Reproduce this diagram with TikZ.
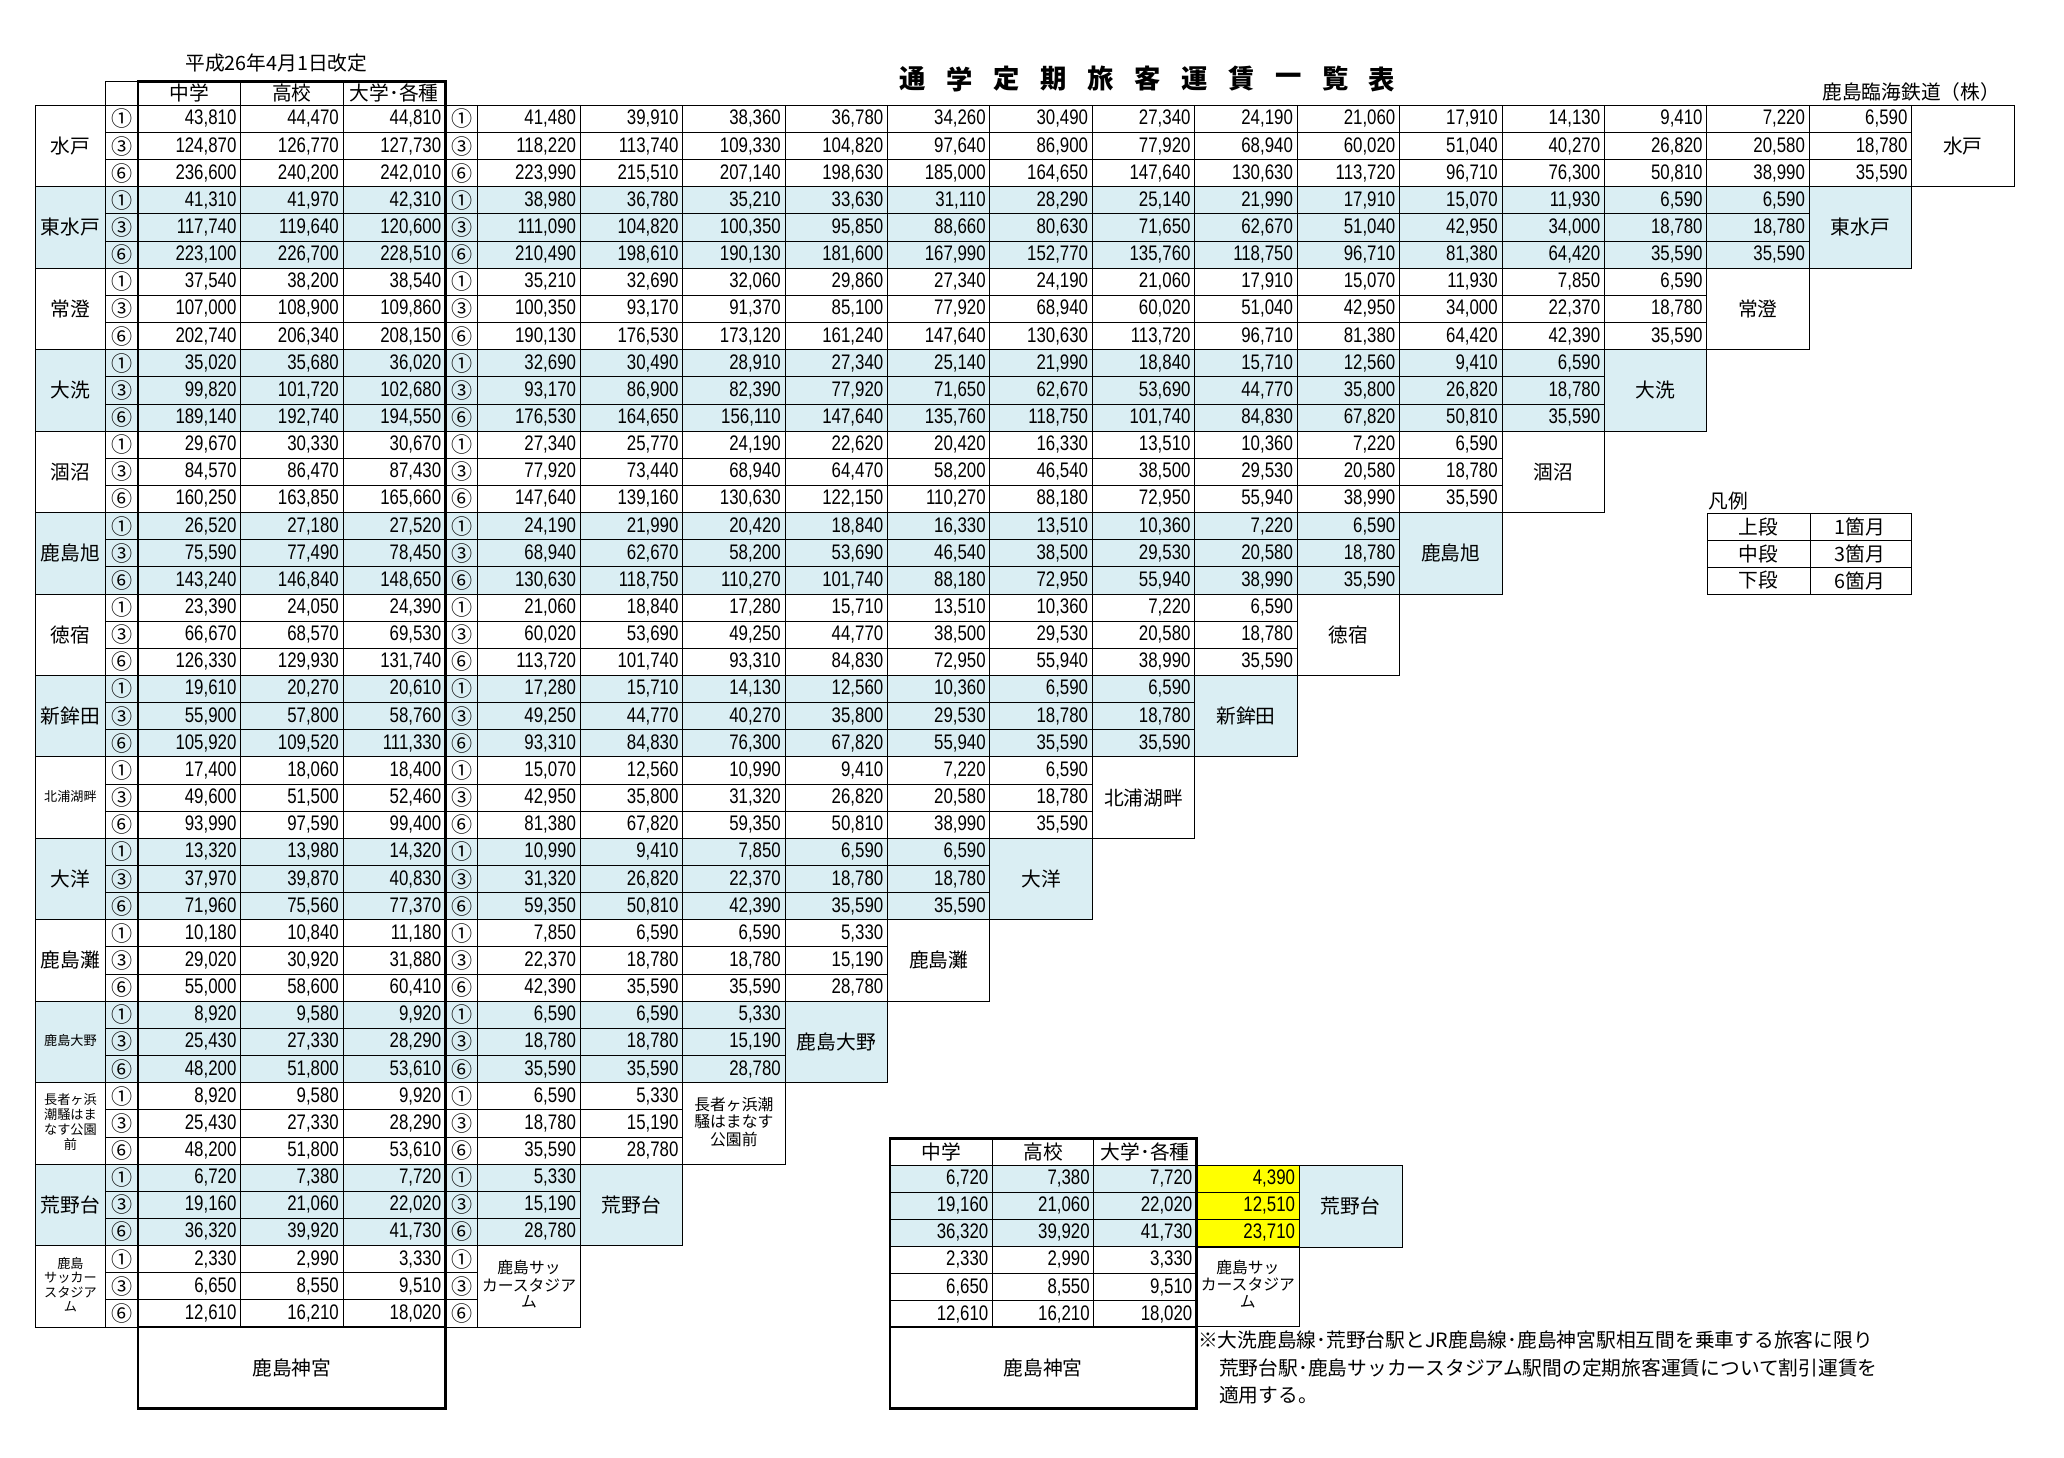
\documentclass[tikz,border=0pt]{standalone}
\usepackage{fontspec}
\setmainfont{Noto Sans CJK JP}
\newfontfamily\numfamily[FakeStretch=0.8]{Liberation Sans}
\usetikzlibrary{positioning}
\definecolor{rowblue}{RGB}{218,238,243}
\definecolor{hiyellow}{RGB}{255,255,0}
\pgfkeys{/pgf/number format/.cd,fixed,precision=0,1000 sep={,},assume math mode=true}
\tikzset{
  grid/.style={line width=0.6pt},
  frame/.style={line width=1.8pt},
  num/.style={anchor=east, inner sep=0pt, font=\numfamily\fontsize{16}{16}\selectfont},
  circ/.style={inner sep=0pt, font=\fontsize{16}{16}\selectfont},
  lbl/.style={align=center, inner sep=0pt, font=\fontsize{15}{17}\selectfont},
}
\newcommand\tinystack[2]{{\fontsize{#1}{#1}\selectfont\renewcommand\arraystretch{0.95}\begin{tabular}{@{}c@{}}#2\end{tabular}}}
% one sub-row: station, sub-row, circled number, left fares, right fares
\newcommand\fareline[5]{%
  \pgfmathsetmacro\ym{80+61.87*#1+20.62*#2+10.31}%
  \node[circ] (ca#1#2) at (92.5,\ym) {#3};
  \node[circ] (cb#1#2) at (350.7,\ym) {#3};
  \foreach \v [count=\k] in {#4} \node[num] (l#1#2\k) at ({105+77.8*\k-3},\ym) {\pgfmathprintnumber{\v}};
  \ifnum#1<14 \foreach \v [count=\k] in {#5} \node[num] (r#1#2\k) at ({363+77.8*\k-3},\ym) {\pgfmathprintnumber{\v}};\fi
}
% one station block
\newcommand\stationrow[9]{%
  \pgfmathsetmacro\yt{80+61.87*#1}%
  \pgfmathsetmacro\yb{\yt+61.87}%
  \pgfmathsetmacro\xl{363+77.8*(14-#1)}%
  \pgfmathsetmacro\xr{\xl+77.8}%
  \ifodd#1 \fill[rowblue] (27,\yt) rectangle (\xr,\yb);\fi
  \foreach \r in {0,...,3} \draw[grid] (80,{\yt+20.62*\r}) -- (\xl,{\yt+20.62*\r});
  \foreach \x in {80,105,182.8,260.6,338.4,363} \draw[grid] (\x,\yt) -- (\x,\yb);
  \pgfmathtruncatemacro\nv{13-#1}%
  \ifnum\nv>0 \foreach \k in {1,...,\nv} \draw[grid] ({363+77.8*\k},\yt) -- ({363+77.8*\k},\yb);\fi
  \draw[grid] (27,\yt) rectangle (80,\yb);
  \draw[grid] (\xl,\yt) rectangle (\xr,\yb);
  \node[lbl] (st#1) at (53.5,{\yt+30.93}) {#2};
  \node[lbl] (sr#1) at ({\xl+38.9},{\yt+30.93}) {#3};
  \fareline{#1}{0}{①}{#4}{#7}
  \fareline{#1}{1}{③}{#5}{#8}
  \fareline{#1}{2}{⑥}{#6}{#9}
}
\begin{document}
\begin{tikzpicture}[x=1pt, y=-1pt]
  \useasboundingbox[fill=white] (0,0) rectangle (1568,1107);

  % headings
  \node[lbl] (date) at (210,48) {平成26年4月1日改定};
  \foreach \c [count=\k] in {通,学,定,期,旅,客,運,賃,一,覧,表}
    \node[inner sep=0pt, font=\fontsize{20}{20}\selectfont\bfseries] (t\k) at ({693+35.7*(\k-1)},60) {\c};
  \node[lbl] (company) at (1452,70) {鹿島臨海鉄道（株）};

  \draw[grid] (80,62) rectangle (105,80);
  \draw[grid] (182.8,62) -- (182.8,80) (260.6,62) -- (260.6,80);
  \node[lbl] (h1) at (143.9,71) {中学};
  \node[lbl] (h2) at (221.7,71) {高校};
  \node[lbl] (h3) at (299.5,71) {大学･各種};

  \stationrow{0}{水戸}{水戸}{43810,44470,44810}{124870,126770,127730}{236600,240200,242010}
    {41480,39910,38360,36780,34260,30490,27340,24190,21060,17910,14130,9410,7220,6590}
    {118220,113740,109330,104820,97640,86900,77920,68940,60020,51040,40270,26820,20580,18780}
    {223990,215510,207140,198630,185000,164650,147640,130630,113720,96710,76300,50810,38990,35590}
  \stationrow{1}{東水戸}{東水戸}{41310,41970,42310}{117740,119640,120600}{223100,226700,228510}
    {38980,36780,35210,33630,31110,28290,25140,21990,17910,15070,11930,6590,6590}
    {111090,104820,100350,95850,88660,80630,71650,62670,51040,42950,34000,18780,18780}
    {210490,198610,190130,181600,167990,152770,135760,118750,96710,81380,64420,35590,35590}
  \stationrow{2}{常澄}{常澄}{37540,38200,38540}{107000,108900,109860}{202740,206340,208150}
    {35210,32690,32060,29860,27340,24190,21060,17910,15070,11930,7850,6590}
    {100350,93170,91370,85100,77920,68940,60020,51040,42950,34000,22370,18780}
    {190130,176530,173120,161240,147640,130630,113720,96710,81380,64420,42390,35590}
  \stationrow{3}{大洗}{大洗}{35020,35680,36020}{99820,101720,102680}{189140,192740,194550}
    {32690,30490,28910,27340,25140,21990,18840,15710,12560,9410,6590}
    {93170,86900,82390,77920,71650,62670,53690,44770,35800,26820,18780}
    {176530,164650,156110,147640,135760,118750,101740,84830,67820,50810,35590}
  \stationrow{4}{涸沼}{涸沼}{29670,30330,30670}{84570,86470,87430}{160250,163850,165660}
    {27340,25770,24190,22620,20420,16330,13510,10360,7220,6590}
    {77920,73440,68940,64470,58200,46540,38500,29530,20580,18780}
    {147640,139160,130630,122150,110270,88180,72950,55940,38990,35590}
  \stationrow{5}{鹿島旭}{鹿島旭}{26520,27180,27520}{75590,77490,78450}{143240,146840,148650}
    {24190,21990,20420,18840,16330,13510,10360,7220,6590}
    {68940,62670,58200,53690,46540,38500,29530,20580,18780}
    {130630,118750,110270,101740,88180,72950,55940,38990,35590}
  \stationrow{6}{徳宿}{徳宿}{23390,24050,24390}{66670,68570,69530}{126330,129930,131740}
    {21060,18840,17280,15710,13510,10360,7220,6590}
    {60020,53690,49250,44770,38500,29530,20580,18780}
    {113720,101740,93310,84830,72950,55940,38990,35590}
  \stationrow{7}{新鉾田}{新鉾田}{19610,20270,20610}{55900,57800,58760}{105920,109520,111330}
    {17280,15710,14130,12560,10360,6590,6590}
    {49250,44770,40270,35800,29530,18780,18780}
    {93310,84830,76300,67820,55940,35590,35590}
  \stationrow{8}{\tinystack{10}{北浦湖畔}}{北浦湖畔}{17400,18060,18400}{49600,51500,52460}{93990,97590,99400}
    {15070,12560,10990,9410,7220,6590}
    {42950,35800,31320,26820,20580,18780}
    {81380,67820,59350,50810,38990,35590}
  \stationrow{9}{大洋}{大洋}{13320,13980,14320}{37970,39870,40830}{71960,75560,77370}
    {10990,9410,7850,6590,6590}
    {31320,26820,22370,18780,18780}
    {59350,50810,42390,35590,35590}
  \stationrow{10}{鹿島灘}{鹿島灘}{10180,10840,11180}{29020,30920,31880}{55000,58600,60410}
    {7850,6590,6590,5330}
    {22370,18780,18780,15190}
    {42390,35590,35590,28780}
  \stationrow{11}{\tinystack{10}{鹿島大野}}{鹿島大野}{8920,9580,9920}{25430,27330,28290}{48200,51800,53610}
    {6590,6590,5330}
    {18780,18780,15190}
    {35590,35590,28780}
  \stationrow{12}{\tinystack{10}{長者ヶ浜\\潮騒はま\\なす公園\\前}}{\tinystack{12}{長者ヶ浜潮\\騒はまなす\\公園前}}{8920,9580,9920}{25430,27330,28290}{48200,51800,53610}
    {6590,5330}
    {18780,15190}
    {35590,28780}
  \stationrow{13}{荒野台}{荒野台}{6720,7380,7720}{19160,21060,22020}{36320,39920,41730}
    {5330}
    {15190}
    {28780}
  \stationrow{14}{\tinystack{10}{鹿島\\サッカー\\スタジア\\ム}}{\tinystack{12}{鹿島サッ\\カースタジア\\ム}}{2330,2990,3330}{6650,8550,9510}{12610,16210,18020}
    {}{}{}

  % destination box and frame of the left block
  \node[lbl] (jingu) at (221.7,1039) {鹿島神宮};
  \draw[frame] (105,62) rectangle (338.4,1070);
  \draw[frame] (105,1008) -- (338.4,1008);

  % legend
  \node[lbl, anchor=west] (legend) at (1298,381) {凡例};
  \foreach \a/\b [count=\k] in {上段/1箇月,中段/3箇月,下段/6箇月} {
    \draw[grid] (1297,{390+20.4*(\k-1)}) rectangle (1375,{390+20.4*\k});
    \draw[grid] (1375,{390+20.4*(\k-1)}) rectangle (1452,{390+20.4*\k});
    \node[lbl] (lg\k a) at (1336,{400.2+20.4*(\k-1)}) {\a};
    \node[lbl] (lg\k b) at (1413,{400.2+20.4*(\k-1)}) {\b};
  }

  % discounted fares table
  \fill[rowblue] (676,885) rectangle (909,947.5);
  \fill[hiyellow] (909,885) rectangle (987,947.5);
  \fill[rowblue] (987,885) rectangle (1065,947.5);
  \draw[grid] (676,865) rectangle (909,885);
  \node[lbl] (sh1) at (715,875) {中学};
  \node[lbl] (sh2) at (792.5,875) {高校};
  \node[lbl] (sh3) at (870,875) {大学･各種};
  \foreach \a/\b/\c/\d [count=\k] in {6720/7380/7720/4390,19160/21060/22020/12510,36320/39920/41730/23710,2330/2990/3330/,6650/8550/9510/,12610/16210/18020/} {
    \pgfmathsetmacro\ym{885+20.62*(\k-1)+10.31}
    \draw[grid] (676,{885+20.62*(\k-1)}) rectangle (909,{885+20.62*\k});
    \node[num] (sa\k) at (751,\ym) {\pgfmathprintnumber{\a}};
    \node[num] (sb\k) at (828,\ym) {\pgfmathprintnumber{\b}};
    \node[num] (sc\k) at (906,\ym) {\pgfmathprintnumber{\c}};
    \ifnum\k<4 \draw[grid] (909,{885+20.62*(\k-1)}) rectangle (987,{885+20.62*\k});
      \node[num] (sd\k) at (984,\ym) {\pgfmathprintnumber{\d}};\fi
  }
  \draw[grid] (754,865) -- (754,1008) (831,865) -- (831,1008);
  \draw[grid] (987,885) rectangle (1065,947.5);
  \node[lbl] (ska) at (1026,916) {荒野台};
  \draw[grid] (909,947.5) rectangle (987,1008);
  \node[lbl] (sks) at (948,977) {\tinystack{12}{鹿島サッ\\カースタジア\\ム}};
  \node[lbl] (sjingu) at (792.5,1039) {鹿島神宮};
  \draw[frame] (676,865) rectangle (909,1070);
  \draw[frame] (676,1008) -- (909,1008);

  % note
  \node[lbl, anchor=west] (n1) at (910,1018) {※大洗鹿島線･荒野台駅とJR鹿島線･鹿島神宮駅相互間を乗車する旅客に限り};
  \node[lbl, anchor=west] (n2) at (926,1039) {荒野台駅･鹿島サッカースタジアム駅間の定期旅客運賃について割引運賃を};
  \node[lbl, anchor=west] (n3) at (926,1060) {適用する。};
\end{tikzpicture}
\end{document}
